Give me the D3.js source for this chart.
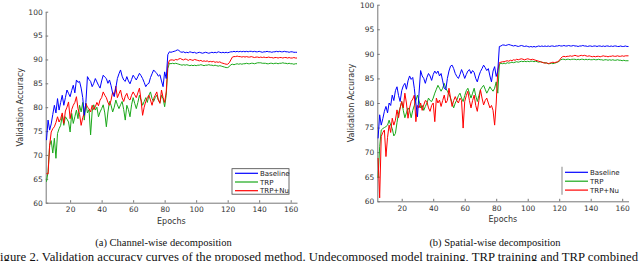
<!DOCTYPE html>
<html>
<head>
<meta charset="utf-8">
<script src="https://cdn.jsdelivr.net/npm/d3@7"></script>
<style>
  html, body { margin: 0; padding: 0; background: #fff; }
  svg { display: block; }
  .tick text { font-family: "DejaVu Sans", sans-serif; font-size: 7.5px; fill: #333; }
  .axis path, .axis line { stroke: #777; }
</style>
</head>
<body>
<svg id="chart" width="640" height="261"></svg>
<script>
// ---------- data ----------
const epochs = d3.range(5, 165);
const seriesNames = ["Baseline", "TRP", "TRP+Nu"];
const xTicks = [20, 40, 60, 80, 100, 120, 140, 160];
const yTicks = [60, 65, 70, 75, 80, 85, 90, 95, 100];

// (a) Channel-wise decomposition
const chanBaseline = [
  73.1, 77.3, 75.2, 76.5, 78.5, 80.4, 78.8, 81.8, 79.4, 81.0,
  82.5, 80.4, 82.0, 83.6, 82.9, 82.2, 83.5, 84.6, 83.0, 85.7,
  85.2, 85.4, 84.0, 82.0, 78.3, 81.0, 86.4, 85.8, 85.4, 84.3,
  85.0, 86.0, 85.3, 84.6, 84.0, 85.5, 86.7, 86.3, 86.0, 85.0,
  85.7, 84.5, 82.9, 82.2, 84.0, 86.0, 87.0, 87.8, 86.5, 85.7,
  85.4, 86.4, 85.5, 84.9, 85.8, 86.7, 86.2, 85.7, 86.4, 87.1,
  86.6, 86.0, 85.2, 84.3, 84.8, 85.0, 86.2, 87.0, 87.8, 87.4,
  87.1, 86.5, 86.8, 85.5, 84.3, 87.4, 86.0, 91.0, 91.6, 91.5,
  91.6, 91.7, 91.8, 92.0, 91.9, 91.6, 91.5, 91.6, 91.4, 91.5,
  91.4, 91.6, 91.5, 91.4, 91.5, 91.3, 91.4, 91.5, 91.4, 91.3,
  91.4, 91.5, 91.4, 91.3, 91.4, 91.5, 91.4, 91.5, 91.4, 91.6,
  91.5, 91.4, 91.5, 91.4, 91.5, 91.4, 91.5, 91.6, 91.6, 91.7,
  91.6, 91.7, 91.6, 91.7, 91.6, 91.7, 91.6, 91.7, 91.6, 91.7,
  91.7, 91.6, 91.7, 91.6, 91.6, 91.7, 91.6, 91.5, 91.6, 91.6,
  91.7, 91.6, 91.6, 91.5, 91.6, 91.6, 91.7, 91.6, 91.7, 91.6,
  91.6, 91.7, 91.6, 91.6, 91.5, 91.6, 91.6, 91.5, 91.5, 91.5
];
const chanTRP = [
  64.4, 66.5, 72.0, 73.0, 70.4, 73.5, 69.3, 74.5, 75.5, 76.2,
  78.3, 76.2, 78.0, 77.5, 76.9, 74.8, 78.7, 76.6, 78.0, 79.4,
  77.6, 80.4, 79.0, 81.0, 77.3, 80.8, 78.8, 79.5, 74.2, 79.2,
  80.5, 79.4, 80.0, 78.0, 79.0, 79.7, 80.5, 78.8, 75.9, 79.0,
  81.2, 80.4, 79.0, 80.0, 81.5, 80.5, 79.7, 80.5, 81.2, 79.5,
  77.3, 80.4, 79.5, 78.0, 80.5, 82.0, 80.8, 79.7, 81.0, 82.5,
  81.5, 80.4, 81.2, 82.0, 81.0, 82.5, 83.2, 81.8, 81.2, 82.0,
  82.5, 81.5, 81.0, 82.5, 81.8, 80.1, 82.5, 88.1, 89.2, 89.1,
  89.2, 89.1, 89.2, 89.1, 89.0, 88.9, 88.8, 88.9, 88.8, 88.9,
  88.8, 88.7, 88.8, 88.7, 88.8, 88.7, 88.8, 88.8, 88.9, 88.8,
  88.7, 88.8, 88.8, 88.9, 88.8, 88.8, 88.7, 88.8, 88.7, 88.6,
  88.7, 88.6, 88.5, 88.4, 88.3, 88.3, 88.5, 88.9, 89.0, 88.9,
  89.0, 89.1, 89.0, 89.1, 89.0, 89.1, 89.1, 89.2, 89.1, 89.1,
  89.2, 89.2, 89.1, 89.2, 89.3, 89.3, 89.3, 89.2, 89.2, 89.2,
  89.1, 89.1, 89.2, 89.2, 89.1, 89.2, 89.2, 89.1, 89.2, 89.2,
  89.3, 89.2, 89.2, 89.1, 89.2, 89.1, 89.1, 89.0, 89.1, 89.1
];
const chanTRPNu = [
  66.1, 66.0, 72.0, 74.8, 75.5, 75.9, 76.8, 78.0, 76.9, 77.6,
  78.8, 76.6, 79.2, 80.0, 81.1, 77.6, 79.5, 80.4, 81.0, 82.2,
  79.7, 78.5, 76.2, 77.8, 78.8, 80.8, 80.0, 79.7, 79.0, 80.4,
  79.5, 80.1, 81.0, 80.3, 81.5, 82.0, 83.2, 82.5, 82.0, 81.0,
  80.4, 81.5, 83.2, 82.5, 84.4, 82.0, 82.8, 83.6, 82.0, 81.2,
  82.3, 82.9, 81.8, 81.5, 82.5, 83.2, 82.6, 82.0, 83.0, 84.0,
  81.5, 78.3, 80.0, 81.2, 82.0, 82.5, 81.5, 80.4, 81.8, 82.5,
  83.2, 81.5, 80.8, 83.6, 82.0, 81.0, 83.2, 88.8, 89.8, 89.9,
  89.9, 89.8, 90.0, 89.9, 90.1, 90.2, 90.0, 89.9, 90.1, 90.0,
  89.8, 90.0, 89.9, 89.8, 90.0, 89.9, 89.8, 89.7, 89.8, 89.6,
  89.7, 89.6, 89.7, 89.5, 89.6, 89.5, 89.6, 89.4, 89.5, 89.4,
  89.5, 89.3, 89.2, 89.1, 89.0, 89.0, 89.3, 89.9, 90.5, 90.6,
  90.6, 90.7, 90.6, 90.6, 90.5, 90.6, 90.5, 90.6, 90.5, 90.5,
  90.6, 90.5, 90.4, 90.5, 90.5, 90.4, 90.5, 90.4, 90.5, 90.4,
  90.4, 90.5, 90.4, 90.4, 90.3, 90.4, 90.4, 90.3, 90.4, 90.4,
  90.3, 90.4, 90.4, 90.3, 90.4, 90.3, 90.3, 90.4, 90.3, 90.3
];

// (b) Spatial-wise decomposition
const spatBaseline = [
  72.8, 77.6, 75.5, 76.8, 78.3, 79.3, 78.0, 80.0, 79.5, 81.6,
  80.5, 82.5, 83.3, 81.5, 80.3, 82.5, 83.5, 84.0, 82.8, 84.5,
  85.5, 84.8, 85.2, 83.0, 80.0, 77.2, 82.0, 86.6, 85.5, 85.0,
  84.0, 85.2, 86.0, 85.5, 84.6, 85.8, 86.5, 86.0, 86.5, 85.5,
  86.0, 84.5, 83.0, 82.7, 85.0, 86.5, 87.5, 87.7, 87.0, 86.0,
  85.4, 85.0, 85.8, 86.8, 86.0, 85.0, 85.8, 86.5, 86.8, 86.0,
  86.6, 86.2, 85.0, 84.3, 85.5, 86.4, 87.0, 87.7, 87.2, 86.6,
  87.0, 85.5, 84.3, 86.5, 87.4, 85.4, 86.5, 91.5, 91.6, 91.8,
  91.8, 91.7, 91.8, 91.9, 91.8, 91.7, 91.6, 91.7, 91.6, 91.5,
  91.6, 91.7, 91.6, 91.5, 91.6, 91.5, 91.4, 91.5, 91.4, 91.5,
  91.4, 91.5, 91.6, 91.5, 91.6, 91.5, 91.6, 91.5, 91.6, 91.5,
  91.6, 91.6, 91.5, 91.6, 91.6, 91.7, 91.6, 91.6, 91.7, 91.6,
  91.6, 91.7, 91.6, 91.6, 91.7, 91.6, 91.6, 91.5, 91.6, 91.6,
  91.7, 91.6, 91.6, 91.5, 91.6, 91.6, 91.5, 91.6, 91.6, 91.5,
  91.6, 91.6, 91.5, 91.6, 91.5, 91.6, 91.6, 91.5, 91.6, 91.5,
  91.6, 91.6, 91.5, 91.5, 91.6, 91.5, 91.5, 91.6, 91.5, 91.5
];
const spatTRP = [
  64.8, 71.1, 74.5, 74.8, 75.0, 75.2, 75.5, 76.5, 75.5, 74.8,
  73.3, 73.8, 76.0, 78.0, 79.0, 80.3, 78.5, 77.0, 78.0, 79.0,
  78.5, 77.0, 78.5, 79.5, 80.5, 81.6, 80.5, 79.0, 79.5, 78.5,
  79.3, 80.0, 81.0, 80.5, 80.3, 81.0, 82.0, 82.8, 83.6, 83.0,
  82.4, 83.0, 84.0, 83.0, 82.4, 81.8, 81.0, 80.0, 79.0, 80.0,
  80.6, 81.5, 82.0, 81.0, 80.3, 81.5, 82.5, 83.0, 82.0, 81.0,
  82.0, 83.0, 81.5, 80.3, 81.5, 82.7, 83.2, 83.6, 82.8, 82.0,
  82.6, 83.3, 82.8, 82.4, 83.0, 84.3, 82.0, 87.8, 88.1, 88.0,
  88.1, 88.0, 88.2, 88.1, 88.2, 88.3, 88.2, 88.3, 88.4, 88.3,
  88.4, 88.5, 88.4, 88.5, 88.4, 88.5, 88.4, 88.5, 88.5, 88.4,
  88.5, 88.4, 88.3, 88.4, 88.3, 88.2, 88.2, 88.1, 88.0, 88.0,
  88.1, 88.0, 88.1, 88.2, 88.3, 88.5, 88.8, 88.9, 88.9, 88.8,
  88.9, 88.9, 88.8, 88.9, 88.9, 88.9, 88.8, 88.9, 88.8, 88.9,
  88.9, 88.8, 88.9, 88.8, 88.9, 88.8, 88.8, 88.9, 88.8, 88.8,
  88.9, 88.8, 88.8, 88.7, 88.8, 88.8, 88.7, 88.8, 88.7, 88.8,
  88.7, 88.7, 88.8, 88.7, 88.7, 88.6, 88.7, 88.6, 88.6, 88.6
];
const spatTRPNu = [
  68.8, 60.7, 73.2, 74.0, 74.5, 69.1, 73.0, 75.5, 74.0, 76.9,
  75.5, 76.5, 78.6, 77.0, 79.0, 80.3, 79.0, 82.0, 80.0, 76.9,
  79.0, 80.3, 80.8, 81.6, 76.2, 79.5, 79.0, 80.0, 78.5, 79.6,
  80.5, 80.3, 79.0, 78.3, 79.5, 80.0, 76.2, 81.0, 80.0, 80.6,
  79.3, 80.5, 81.6, 80.0, 80.5, 83.0, 81.0, 79.3, 80.5, 81.3,
  80.5, 80.0, 81.0, 80.5, 74.9, 80.3, 81.5, 82.4, 80.5, 79.0,
  80.5, 81.6, 79.5, 78.3, 80.5, 82.7, 81.0, 79.6, 80.5, 81.0,
  80.0, 79.0, 79.5, 78.5, 75.5, 80.0, 86.6, 88.2, 88.3, 88.4,
  88.4, 88.5, 88.6, 88.5, 88.7, 88.6, 88.8, 88.7, 88.9, 88.8,
  88.9, 89.0, 88.9, 88.8, 88.9, 89.0, 88.9, 88.8, 88.9, 88.8,
  88.7, 88.6, 88.5, 88.4, 88.3, 88.2, 88.1, 88.2, 88.0, 88.1,
  88.2, 88.3, 88.2, 88.3, 88.4, 88.6, 89.1, 89.4, 89.5, 89.4,
  89.5, 89.5, 89.6, 89.5, 89.6, 89.7, 89.6, 89.5, 89.6, 89.7,
  89.6, 89.7, 89.6, 89.5, 89.6, 89.5, 89.4, 89.5, 89.4, 89.5,
  89.5, 89.4, 89.5, 89.6, 89.5, 89.5, 89.4, 89.5, 89.5, 89.6,
  89.5, 89.5, 89.6, 89.5, 89.5, 89.6, 89.5, 89.6, 89.6, 89.6
];

const colors = ["#0000ff", "#1aa81a", "#ff0000"];

// ---------- drawing ----------
const svg = d3.select("#chart");

function panel(cfg, seriesList) {
  const x = d3.scaleLinear().domain([4.5, 164]).range([cfg.left, cfg.right]);
  const y = d3.scaleLinear().domain([60, 100]).range([cfg.bottom, cfg.top]);
  const g = svg.append("g");

  g.append("g").attr("class", "axis")
    .attr("transform", `translate(0,${cfg.bottom})`)
    .call(d3.axisBottom(x).tickValues(xTicks).tickSizeInner(-2.5).tickSizeOuter(0).tickPadding(4))
    .call(s => s.select(".domain").attr("stroke", "#777"));

  g.append("g").attr("class", "axis")
    .attr("transform", `translate(${cfg.left},0)`)
    .call(d3.axisLeft(y).tickValues(yTicks).tickSizeInner(-2.5).tickSizeOuter(0).tickPadding(3))
    .call(s => s.select(".domain").attr("stroke", "#777"));

  const line = d3.line().x((d, i) => x(epochs[i])).y(d => y(d));
  // draw green, red, then blue on top order similar to reference
  [1, 2, 0].forEach(k => {
    g.append("path").datum(seriesList[k])
      .attr("fill", "none").attr("stroke", colors[k]).attr("stroke-width", 1)
      .attr("stroke-linejoin", "round").attr("d", line);
  });

  g.append("text").attr("x", (cfg.left + cfg.right) / 2).attr("y", cfg.bottom + 21)
    .attr("text-anchor", "middle").attr("font-family", "DejaVu Sans, sans-serif")
    .attr("font-size", 8).attr("fill", "#333").text("Epochs");

  g.append("text")
    .attr("transform", `translate(${cfg.ylabX},${(cfg.top + cfg.bottom) / 2}) rotate(-90)`)
    .attr("text-anchor", "middle").attr("font-family", "DejaVu Sans, sans-serif")
    .attr("font-size", 8).attr("fill", "#333").text("Validation Accuracy");

  // legend
  const lg = g.append("g");
  if (cfg.legendBox) {
    lg.append("rect").attr("x", cfg.lgX).attr("y", cfg.lgY).attr("width", 57).attr("height", 25.5)
      .attr("fill", "#fff").attr("stroke", "#444").attr("stroke-width", 0.8);
  } else {
    lg.append("rect").attr("x", cfg.lgX).attr("y", cfg.lgY).attr("width", 70).attr("height", 28)
      .attr("fill", "#fff");
    lg.append("line").attr("x1", cfg.lgX).attr("x2", cfg.lgX).attr("y1", cfg.lgY).attr("y2", cfg.lgY + 28)
      .attr("stroke", "#999").attr("stroke-width", 1.2);
  }
  seriesNames.forEach((name, k) => {
    const yy = cfg.lgY + cfg.lgRow0 + k * cfg.lgStep;
    lg.append("line").attr("x1", cfg.lgX + cfg.lnX0).attr("x2", cfg.lgX + cfg.lnX1)
      .attr("y1", yy).attr("y2", yy).attr("stroke", colors[k]).attr("stroke-width", 1.2);
    lg.append("text").attr("x", cfg.lgX + cfg.lnX1 + 2).attr("y", yy + 2.5)
      .attr("font-family", "DejaVu Sans, sans-serif").attr("font-size", 7)
      .attr("fill", "#222").text(name);
  });

  svg.append("text").attr("x", cfg.capX).attr("y", 245.5).attr("text-anchor", "middle")
    .attr("font-family", "Liberation Serif, Times New Roman, serif").attr("font-size", 10.5)
    .attr("fill", "#111").text(cfg.caption);
}

panel({left: 45.7, right: 297, top: 11.7, bottom: 202.7, ylabX: 23,
       legendBox: true, lgX: 232, lgY: 168.7, lgRow0: 4.6, lgStep: 8.7, lnX0: 3, lnX1: 26,
       capX: 163.5, caption: "(a)  Channel-wise decomposition"},
      [chanBaseline, chanTRP, chanTRPNu]);

panel({left: 377.3, right: 628.5, top: 4.7, bottom: 201.3, ylabX: 354,
       legendBox: false, lgX: 562, lgY: 166.7, lgRow0: 5.6, lgStep: 8.9, lnX0: 3, lnX1: 26,
       capX: 495, caption: "(b)  Spatial-wise decomposition"},
      [spatBaseline, spatTRP, spatTRPNu]);

svg.append("text").attr("x", -7).attr("y", 260.5)
  .attr("font-family", "Liberation Serif, Times New Roman, serif").attr("font-size", 11.5)
  .attr("fill", "#111").attr("textLength", 645).attr("lengthAdjust", "spacingAndGlyphs")
  .text("Figure 2. Validation accuracy curves of the proposed method. Undecomposed model training, TRP training and TRP combined");
</script>
</body>
</html>
